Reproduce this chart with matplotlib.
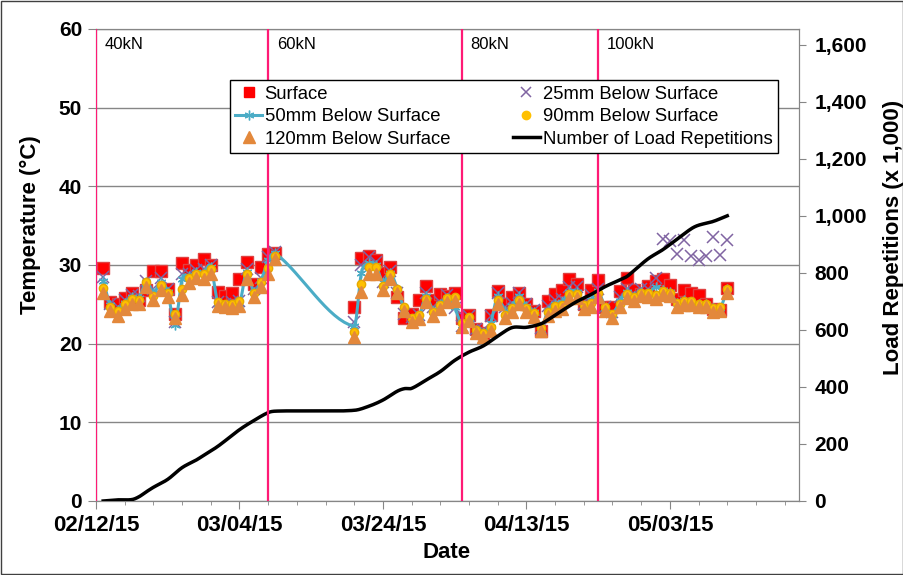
import matplotlib
matplotlib.use('Agg')
import matplotlib.pyplot as plt
import matplotlib.dates as mdates
from matplotlib.lines import Line2D
import numpy as np
from datetime import datetime

plt.rcParams['font.family'] = ['Liberation Sans', 'DejaVu Sans']

# days counted from 02/12/15
start = datetime(2015, 2, 12)
days = list(range(1, 26)) + list(range(36, 89))

surface = [29.6, 25.3, 25.1, 25.8, 26.5, 25.6, 26.8, 29.3, 29.3, 26.9, 23.8, 30.3, 29.4, 30.0, 30.7,
           30.0, 26.6, 26.0, 26.4, 28.2, 30.4, 27.6, 29.8, 31.4, 31.5,
           24.7, 30.9, 31.1, 30.6, 29.0, 29.7, 25.9, 23.3, 23.8, 25.5, 27.3, 25.6, 26.3, 26.0, 26.5,
           23.3, 23.7, 21.9, 21.4, 23.7, 26.7, 25.0, 25.9, 26.4, 25.1, 24.2, 21.6, 25.4, 26.3, 26.8,
           28.2, 27.6, 25.0, 26.8, 28.1, 24.7, 24.6, 26.7, 28.4, 26.8, 26.3, 27.3, 28.0, 28.2, 27.5,
           25.7, 26.8, 26.4, 26.2, 25.0, 24.4, 24.3, 27.1]
mm25 = [28.5, 25.1, 24.6, 25.5, 26.2, 26.0, 28.0, 27.0, 28.3, 27.0, 22.7, 28.9, 28.8, 29.4, 29.5,
        30.0, 25.3, 25.1, 25.3, 25.4, 29.5, 27.0, 28.4, 31.0, 31.6,
        22.8, 30.0, 31.0, 30.4, 27.9, 29.3, 26.4, 23.8, 23.4, 23.6, 26.5, 24.6, 25.3, 26.2, 24.5,
        22.3, 23.5, 21.9, 21.7, 23.5, 26.5, 24.6, 25.2, 26.5, 25.1, 24.3, 22.0, 24.8, 25.6, 25.7,
        27.2, 27.2, 25.0, 26.2, 27.0, 24.7, 24.0, 25.9, 27.0, 26.3, 27.0, 26.9, 28.4, 33.3, 33.0,
        31.4, 33.2, 31.1, 30.6, 31.2, 33.6, 31.3, 33.2]
mm50 = [28.0, 24.9, 24.3, 25.2, 25.9, 25.8, 27.9, 26.4, 27.8, 26.6, 22.4, 28.2, 28.6, 29.1, 29.0,
        29.8, 25.1, 24.8, 24.9, 25.0, 29.1, 26.6, 28.0, 30.6, 31.5,
        22.2, 29.0, 30.2, 30.0, 27.8, 29.0, 27.0, 24.3, 23.0, 23.4, 26.0, 24.2, 25.0, 25.8, 24.6,
        22.4, 23.3, 21.7, 21.4, 22.6, 26.0, 24.1, 24.8, 26.0, 24.8, 24.0, 21.9, 24.2, 25.1, 25.3,
        26.6, 26.6, 24.9, 25.6, 26.7, 24.5, 23.7, 25.4, 26.6, 26.0, 26.6, 26.5, 27.2, 26.8, 26.6,
        25.2, 25.5, 25.3, 25.1, 25.0, 24.5, 24.5, 26.9]
mm90 = [27.1, 24.7, 24.1, 25.0, 25.7, 25.6, 27.8, 26.1, 27.4, 26.5, 23.8, 27.0, 28.3, 28.9, 28.8,
        29.5, 25.3, 25.1, 25.0, 25.4, 28.8, 26.5, 27.8, 29.6, 31.2,
        21.5, 27.6, 29.8, 29.7, 27.3, 28.8, 26.9, 24.6, 23.3, 23.6, 25.7, 24.0, 24.9, 25.8, 25.9,
        22.6, 23.4, 21.8, 21.3, 22.1, 25.5, 23.7, 24.5, 25.6, 24.5, 23.9, 22.0, 24.0, 24.8, 24.9,
        26.3, 26.3, 24.9, 25.2, 26.4, 24.6, 23.8, 25.1, 26.3, 25.9, 26.5, 26.4, 26.2, 26.7, 26.5,
        25.2, 25.4, 25.4, 25.1, 25.1, 24.5, 24.6, 27.0]
mm120 = [26.4, 24.1, 23.5, 24.4, 25.1, 25.0, 27.2, 25.5, 26.8, 25.9, 23.3, 26.2, 27.7, 28.3, 28.2,
         28.9, 24.8, 24.6, 24.5, 24.8, 28.2, 25.9, 27.2, 28.9, 30.7,
         20.9, 26.6, 28.9, 28.9, 26.8, 28.2, 26.4, 24.2, 22.8, 23.1, 25.3, 23.5, 24.4, 25.3, 25.4,
         22.1, 22.9, 21.3, 20.8, 21.6, 25.0, 23.2, 24.0, 25.1, 24.0, 23.4, 21.6, 23.5, 24.2, 24.4,
         25.8, 25.8, 24.4, 24.7, 25.9, 24.1, 23.3, 24.6, 25.8, 25.4, 26.0, 25.9, 25.7, 26.2, 26.0,
         24.7, 24.9, 24.9, 24.6, 24.6, 24.0, 24.1, 26.5]

load_days = [1, 3, 5, 6, 7, 8, 10, 12, 14, 15, 17, 20, 22, 24, 25, 30, 36, 38, 40, 42, 43, 44,
             46, 48, 50, 52, 54, 56, 58, 60, 62, 63, 65, 67, 69, 71, 73, 74, 75, 77, 79, 81, 83,
             84, 86, 88]
load = [0, 4, 5, 15, 32, 48, 76, 117, 144, 160, 192, 250, 282, 310, 315, 316, 318, 332, 354, 385,
        394, 395, 424, 454, 493, 522, 544, 578, 608, 609, 621, 635, 668, 699, 724, 752, 775, 787,
        808, 850, 881, 918, 955, 967, 980, 1000]

stage_days = [0, 24, 51, 70]
stage_labels = ['40kN', '60kN', '80kN', '100kN']

t0 = mdates.date2num(start)


def to_num(d):
    return t0 + np.asarray(d, float)


def smooth(x, y, n=16):
    # cubic hermite through the points, like excel's smoothed line
    x = np.asarray(x, float)
    y = np.asarray(y, float)
    m = np.zeros_like(y)
    m[1:-1] = (y[2:] - y[:-2]) / (x[2:] - x[:-2])
    m[0] = (y[1] - y[0]) / (x[1] - x[0])
    m[-1] = (y[-1] - y[-2]) / (x[-1] - x[-2])
    xs, ys = [], []
    t = np.linspace(0, 1, n, endpoint=False)
    for i in range(len(x) - 1):
        h = x[i + 1] - x[i]
        h00 = 2 * t**3 - 3 * t**2 + 1
        h10 = t**3 - 2 * t**2 + t
        h01 = -2 * t**3 + 3 * t**2
        h11 = t**3 - t**2
        xs.append(x[i] + h * t)
        ys.append(h00 * y[i] + h10 * h * m[i] + h01 * y[i + 1] + h11 * h * m[i + 1])
    xs.append([x[-1]])
    ys.append([y[-1]])
    return np.concatenate(xs), np.concatenate(ys)


fig = plt.figure(figsize=(9.04, 5.75), dpi=100)
ax = fig.add_axes([96 / 904, 1 - 501 / 575, 703 / 904, 472 / 575])
ax2 = ax.twinx()

gray = '#868686'
x = to_num(days)

ax.plot(x, surface, 's', color='#FF0000', mec='#E04040', ms=8, zorder=3)
ax.plot(x, mm25, 'x', color='#8064A2', ms=8, mew=1.1, zorder=4)
sx, sy = smooth(days, mm50)
ax.plot(to_num(sx), sy, '-', color='#4BACC6', lw=2.2, zorder=5)
ax.plot(x, mm50, ls='none', marker=(6, 2, 0), color='#4BACC6', ms=7, mew=1, zorder=5)
ax.plot(x, mm90, 'o', color='#FFC000', mec='#E6A800', ms=6, zorder=6)
ax.plot(x, mm120, '^', color='#E3883B', mec='#E3883B', ms=9, zorder=7)

lx, ly = smooth(load_days, load)
ax2.plot(to_num(lx), ly, '-', color='black', lw=2.5, zorder=3)

for d, lab in zip(stage_days, stage_labels):
    xv = to_num(d)
    ax2.axvline(xv, color='#FF1A75', lw=1.6, zorder=4)
    ax2.text(xv + 1.2, 1600, lab, fontsize=12, va='center', ha='left', zorder=6)

ax.set_xlim(to_num(0), to_num(98))
ax.set_ylim(0, 60)
ax2.set_ylim(0, 1655)
ax.set_yticks(range(0, 61, 10))
ax2.set_yticks(range(0, 1601, 200))
ax2.set_yticklabels(['{:,}'.format(v) for v in range(0, 1601, 200)])
ax.set_xticks(to_num(range(0, 98, 20)))
ax.set_xticks(to_num(range(0, 99, 4)), minor=True)
ax.xaxis.set_major_formatter(mdates.DateFormatter('%m/%d/%y'))

ax.grid(axis='y', color=gray, lw=1)
ax.set_axisbelow(True)
for a in (ax, ax2):
    for s in a.spines.values():
        s.set_color(gray)
ax.tick_params(axis='y', which='major', direction='out', length=6, color=gray,
               labelsize=15, pad=4)
ax.tick_params(axis='x', which='major', direction='out', length=6, color=gray,
               labelsize=16, pad=4)
ax.tick_params(axis='x', which='minor', direction='out', length=3, color=gray)
ax2.tick_params(axis='y', direction='out', length=5, color=gray, labelsize=15, pad=6)
for lab in ax.get_xticklabels() + ax.get_yticklabels() + ax2.get_yticklabels():
    lab.set_fontweight('bold')

fig.text(30 / 904, 1 - 225 / 575, 'Temperature (\u00b0C)', rotation=90, ha='center', va='center',
         fontsize=16, fontweight='bold')
fig.text(894 / 904, 1 - 237 / 575, 'Load Repetitions (x 1,000)', rotation=90, ha='center',
         va='center', fontsize=16, fontweight='bold')
fig.text(447 / 904, 1 - 553 / 575, 'Date', ha='center', va='center', fontsize=16,
         fontweight='bold')

handles = [
    Line2D([], [], ls='none', marker='s', color='#FF0000', ms=7),
    Line2D([], [], color='#4BACC6', lw=2.2, marker=(6, 2, 0), ms=7),
    Line2D([], [], ls='none', marker='^', color='#E3883B', ms=8),
    Line2D([], [], ls='none', marker='x', color='#8064A2', ms=7, mew=1.1),
    Line2D([], [], ls='none', marker='o', color='#FFC000', ms=6),
    Line2D([], [], color='black', lw=2.5),
]
labels = ['Surface', '50mm Below Surface', '120mm Below Surface',
          '25mm Below Surface', '90mm Below Surface', 'Number of Load Repetitions']
leg = ax2.legend(handles, labels, ncol=2, loc='upper left', bbox_to_anchor=(0.19, 0.742, 0.78, 0.15),
                 mode='expand', fontsize=13.3, frameon=True, fancybox=False, edgecolor='black',
                 framealpha=1, borderpad=0.3, labelspacing=0.3, handlelength=1.45,
                 handletextpad=0.15, borderaxespad=0, numpoints=1)
leg.get_frame().set_linewidth(1)
leg.set_zorder(10)

fig.patches.append(plt.Rectangle((0.001, 0.001), 0.998, 0.998, transform=fig.transFigure,
                                 fill=False, edgecolor='#404040', lw=1))

fig.savefig('out.png', dpi=100)
